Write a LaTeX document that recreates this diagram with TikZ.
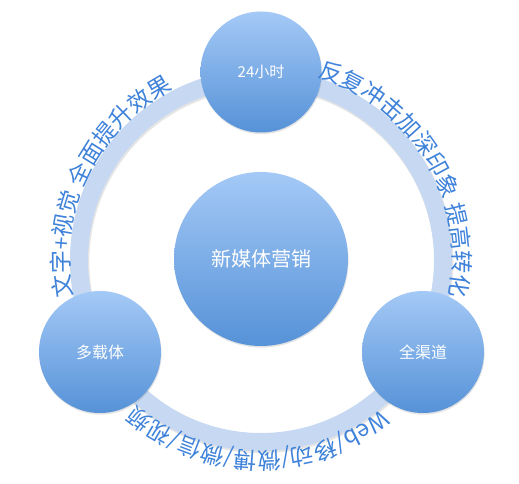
\documentclass[tikz,border=0pt]{standalone}
\usepackage{fontspec}
\setmainfont{Noto Sans CJK SC}
\newfontfamily\cjkfont{Noto Sans CJK SC}
\usetikzlibrary{decorations.text,shadows}
\definecolor{arcblue}{RGB}{62,130,218}
\definecolor{ringblue}{RGB}{199,217,242}
\definecolor{balltop}{RGB}{164,201,246}
\definecolor{ballbot}{RGB}{86,146,216}
\tikzset{
  ball/.style={circle, inner sep=0pt, top color=balltop, bottom color=ballbot,
    draw=none, text=white, font=\cjkfont\fontsize{16}{16}\selectfont,
    drop shadow={opacity=0.22, shadow xshift=0.6pt, shadow yshift=-1.6pt}},
  arclabel/.style={decorate, decoration={text along path, text align=left}},
}
\newcommand{\arcfnt}{\color{arcblue}\cjkfont\fontsize{23}{23}\selectfont}
\begin{document}
\begin{tikzpicture}[x=1pt,y=1pt]
\useasboundingbox (0,0) rectangle (519,484);
\coordinate (o) at (261,224);
% ring
\draw[line width=19pt, black, opacity=0.10] ([shift={(0.8,-1.6)}]o) circle[radius=182];
\draw[line width=18pt, ringblue] (o) circle[radius=182];
% balls
\node[ball, minimum size=174pt, font=\cjkfont\fontsize{20}{20}\selectfont] (center) at (261,225) {新媒体营销};
\node[ball, minimum size=121pt, font=\cjkfont\fontsize{15}{15}\selectfont] (top) at (261,412) {24小时};
\node[ball, minimum size=122pt] (left) at (100,132) {多载体};
\node[ball, minimum size=122pt] (right) at (423,132) {全渠道};
% arc labels
\path[arclabel, decoration={text={|\arcfnt|文字+视觉 全面提升效果}}]
  (o) ++(191:192) arc[start angle=191, end angle=80, radius=192];
\path[arclabel, decoration={text={|\arcfnt|反复冲击加深印象 提高转化}}]
  (o) ++(73:192) arc[start angle=73, end angle=-40, radius=192];
\path[arclabel, decoration={text={|\arcfnt|Web/移动/微博/微信/视频}}]
  (o) ++(-51:192) arc[start angle=-51, end angle=-165, radius=192];
\end{tikzpicture}
\end{document}
